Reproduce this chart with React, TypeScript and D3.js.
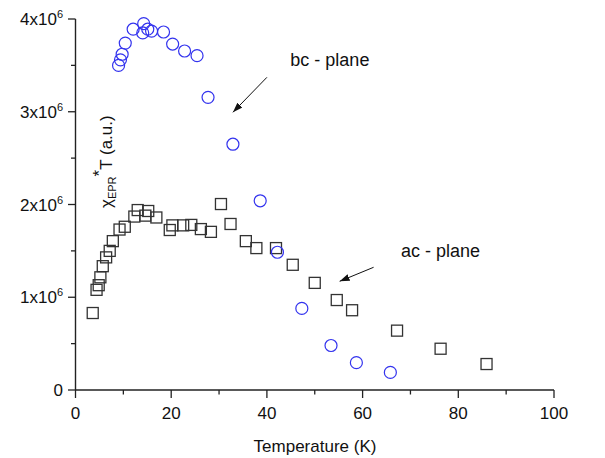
import * as d3 from 'd3';

// bc-plane (circles): temperature K, chi*T in units of 1e6
const bcT = [9.0, 9.4, 9.75, 10.4, 12.05, 14.25, 14.05, 15.1, 15.9, 18.4, 20.3, 22.8, 25.4, 27.7, 32.9, 38.6, 42.2, 47.3, 53.4, 58.7, 65.8];
const bcY = [3.50, 3.56, 3.62, 3.74, 3.89, 3.95, 3.85, 3.89, 3.87, 3.86, 3.73, 3.655, 3.605, 3.155, 2.65, 2.04, 1.485, 0.88, 0.48, 0.295, 0.19];

// ac-plane (squares)
const acT = [3.6, 4.4, 4.85, 5.2, 5.7, 6.4, 7.15, 7.8, 9.2, 10.3, 12.3, 13.0, 14.6, 15.2, 16.9, 19.7, 20.25, 22.5, 24.2, 26.2, 28.3, 30.4, 32.4, 35.6, 37.8, 41.9, 45.4, 50.0, 54.6, 57.8, 67.2, 76.3, 85.9];
const acY = [0.83, 1.08, 1.13, 1.215, 1.335, 1.43, 1.50, 1.605, 1.73, 1.76, 1.87, 1.94, 1.88, 1.93, 1.86, 1.725, 1.775, 1.775, 1.78, 1.735, 1.705, 2.005, 1.79, 1.605, 1.53, 1.53, 1.35, 1.155, 0.97, 0.86, 0.64, 0.445, 0.28];

const xTicks = [0, 20, 40, 60, 80, 100];
const xMinor = [10, 30, 50, 70, 90];
const yTicks = [0, 1, 2, 3, 4];
const yMinor = [0.5, 1.5, 2.5, 3.5];

const W = 605;
const H = 458;
const FONT = 'Liberation Sans, Arial, sans-serif';
const AXIS = '#222';
const FS = 17;

export default function App() {
  const x = d3.scaleLinear().domain([0, 100]).range([75.5, 554]);
  const y = d3.scaleLinear().domain([0, 4]).range([390, 19]);
  const x0 = x(0);
  const y0 = y(0);

  return (
    <svg width={W} height={H} style={{ position: 'absolute', left: 0, top: 0, background: '#fff' }} fontFamily={FONT}>
      <defs>
        <marker id="ah" viewBox="0 0 10 10" refX="10" refY="5" markerWidth="10" markerHeight="10" markerUnits="userSpaceOnUse" orient="auto">
          <path d="M0,1.5 L10,5 L0,8.5 Z" fill="#111" />
        </marker>
      </defs>

      {/* axes */}
      <line x1={x0} x2={x(100)} y1={y0} y2={y0} stroke={AXIS} strokeWidth={1.4} />
      <line x1={x0} x2={x0} y1={y(4)} y2={y0} stroke={AXIS} strokeWidth={1.4} />

      {xTicks.map(t => (
        <g key={'xt' + t}>
          <line x1={x(t)} x2={x(t)} y1={y0} y2={y0 + 8} stroke={AXIS} strokeWidth={1.3} />
          <text x={x(t)} y={419} textAnchor="middle" fontSize={FS} fill="#111">{t}</text>
        </g>
      ))}
      {xMinor.map(t => (
        <line key={'xm' + t} x1={x(t)} x2={x(t)} y1={y0} y2={y0 + 4.5} stroke={AXIS} strokeWidth={1.3} />
      ))}
      {yTicks.map(t => (
        <g key={'yt' + t}>
          <line x1={x0 - 7.5} x2={x0} y1={y(t)} y2={y(t)} stroke={AXIS} strokeWidth={1.3} />
          {t === 0 ? (
            <text x={63} y={y(t) + 6} textAnchor="end" fontSize={FS} fill="#111">0</text>
          ) : (
            <text x={63} y={y(t) + 6} textAnchor="end" fontSize={FS} fill="#111">
              {t}x10<tspan dy={-7} fontSize={11}>6</tspan>
            </text>
          )}
        </g>
      ))}
      {yMinor.map(t => (
        <line key={'ym' + t} x1={x0 - 4.5} x2={x0} y1={y(t)} y2={y(t)} stroke={AXIS} strokeWidth={1.3} />
      ))}

      <text x={315} y={452} textAnchor="middle" fontSize={FS} fill="#111">Temperature (K)</text>
      <text transform="translate(112,208) rotate(-90)" fontSize={FS} fill="#111">
        χ<tspan dy={4} fontSize={11}>EPR</tspan><tspan dy={-11}>*</tspan><tspan dy={7}>T (a.u.)</tspan>
      </text>

      {/* data */}
      {acT.map((t, i) => (
        <rect key={'s' + i} x={x(t) - 5.5} y={y(acY[i]) - 5.5} width={11} height={11}
          fill="none" stroke="#333" strokeWidth={1.3} />
      ))}
      {bcT.map((t, i) => (
        <circle key={'c' + i} cx={x(t)} cy={y(bcY[i])} r={6}
          fill="none" stroke="#3333ee" strokeWidth={1.2} />
      ))}

      {/* annotations */}
      <text x={x(44.9)} y={y(3.493)} fontSize={18} fill="#111">bc - plane</text>
      <line x1={x(40.0)} y1={y(3.371)} x2={x(32.9)} y2={y(2.994)} stroke="#111" strokeWidth={1} markerEnd="url(#ah)" />
      <text x={x(68.0)} y={y(1.431)} fontSize={18} fill="#111">ac - plane</text>
      <line x1={x(62.3)} y1={y(1.323)} x2={x(55.2)} y2={y(1.172)} stroke="#111" strokeWidth={1} markerEnd="url(#ah)" />
    </svg>
  );
}
